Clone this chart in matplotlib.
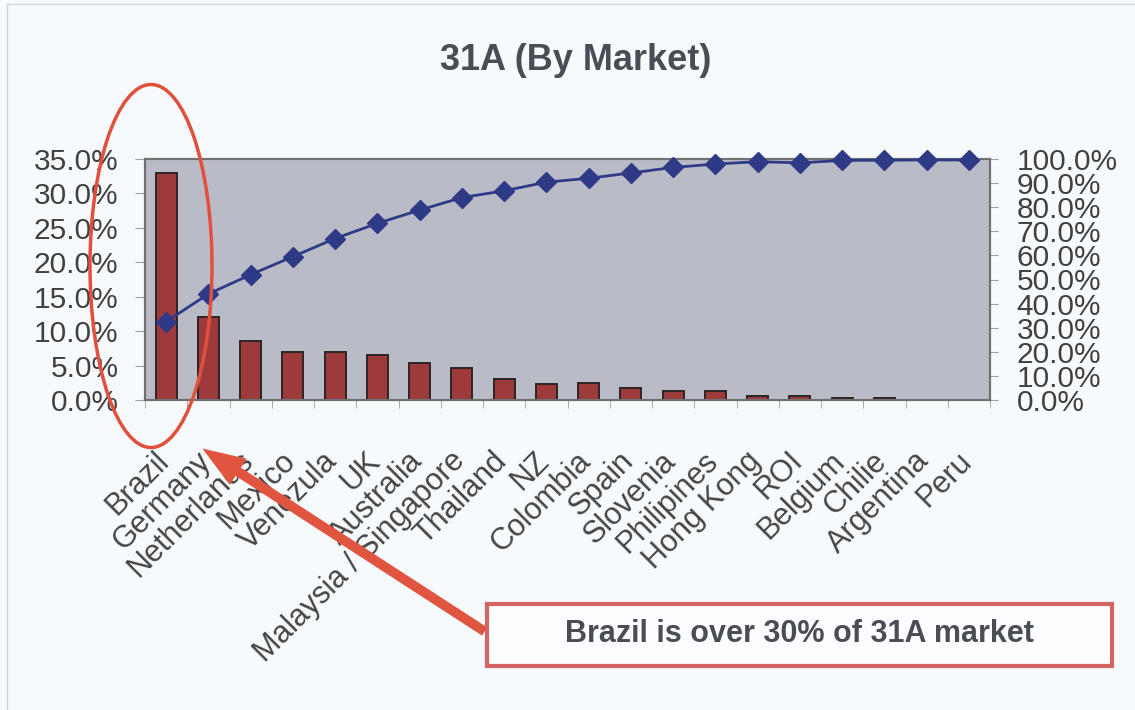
import matplotlib
matplotlib.use('Agg')
import matplotlib.pyplot as plt
import matplotlib.patches as patches
from matplotlib.lines import Line2D
import numpy as np

markets = ['Brazil', 'Germany', 'Netherlands', 'Mexico', 'Venezula', 'UK',
           'Australia', 'Malaysia / Singapore', 'Thailand', 'NZ', 'Colombia',
           'Spain', 'Slovenia', 'Philipines', 'Hong Kong', 'ROI', 'Belgium',
           'Chilie', 'Argentina', 'Peru']
# share of market (%) - bars, left axis
share = [33.0, 12.0, 8.5, 7.0, 7.0, 6.6, 5.4, 4.6, 3.1, 2.3, 2.4, 1.7, 1.3,
         1.3, 0.6, 0.6, 0.3, 0.3, 0.05, 0.05]
# cumulative share (%) - line, right axis
cumulative = [32.5, 44.0, 52.0, 59.5, 67.0, 73.3, 78.8, 84.0, 86.8, 90.4,
              92.0, 94.2, 96.5, 97.9, 98.9, 98.4, 99.4, 99.5, 99.6, 99.6]
left_ticks = [0, 5, 10, 15, 20, 25, 30, 35]
right_ticks = [0, 10, 20, 30, 40, 50, 60, 70, 80, 90, 100]

plt.rcParams['font.family'] = ['Liberation Sans', 'DejaVu Sans']
W, H = 1135, 710
fig = plt.figure(figsize=(W / 100, H / 100), dpi=100)
fig.patch.set_facecolor('#f6fafc')

ax = fig.add_axes([145 / W, 1 - 400 / H, 845 / W, 241 / H])
ax.set_facecolor('#b9bcc6')
x = np.arange(len(markets))
ax.bar(x, share, width=0.5, color='#9c3a3c', edgecolor='#2e2424', linewidth=1.4, zorder=2)
ax.set_xlim(-0.5, len(markets) - 0.5)
ax.set_ylim(0, 35)
ax.set_yticks(left_ticks)
ax.set_yticklabels([f'{v:.1f}%' for v in left_ticks], fontsize=21.5, color='#404040')
ax.tick_params(axis='y', length=7, color='#a0a0a0', pad=12)
ax.set_xticks(x)
ax.set_xticklabels([])
ax.tick_params(axis='x', length=0)
ax.set_xticks(np.arange(len(markets) + 1) - 0.5, minor=True)
ax.tick_params(axis='x', which='minor', length=6, color='#a0a0a0')
for s in ax.spines.values():
    s.set_color('#707070')
    s.set_linewidth(1.5)

for i, m in enumerate(markets):
    ax.annotate(m, xy=(i, 0), xycoords=('data', 'axes fraction'),
                xytext=(-9, -33), textcoords='offset points',
                rotation=45, ha='right', va='top', rotation_mode='anchor',
                fontsize=22, color='#454545')

ax2 = ax.twinx()
ax2.plot(x, cumulative, color='#2f3a86', linewidth=2, marker='D', markersize=10,
         clip_on=False, zorder=3)
ax2.set_ylim(0, 100)
ax2.set_yticks(right_ticks)
ax2.set_yticklabels([f'{v:.1f}%' for v in right_ticks], fontsize=21.5, color='#404040')
ax2.tick_params(axis='y', length=6, color='#a0a0a0', pad=13)
for s in ax2.spines.values():
    s.set_color('#707070')
    s.set_linewidth(1.5)

fig.text(576 / W, 1 - 60 / H, '31A (By Market)', ha='center', va='center',
         fontsize=26, fontweight='bold', color='#4a4d55')

# red ellipse round Brazil
fig.add_artist(patches.Ellipse((151 / W, 1 - 266 / H), 122 / W, 363 / H,
                               transform=fig.transFigure, fill=False,
                               edgecolor='#e0503c', linewidth=2.5))

# arrow from the box to the ellipse
fig.add_artist(patches.FancyArrowPatch((487 / W, 1 - 633 / H), (200 / W, 1 - 447 / H),
                                       transform=fig.transFigure,
                                       arrowstyle='simple,head_width=1.6,head_length=2.2,tail_width=0.5',
                                       mutation_scale=14, color='#e0553f', linewidth=0))

# callout box
fig.add_artist(patches.Rectangle((487 / W, 1 - 666 / H), 625 / W, 62 / H,
                                 transform=fig.transFigure, fill=True,
                                 facecolor='#fbfdfe', edgecolor='#d36461', linewidth=3))
fig.text(799 / W, 1 - 634 / H, 'Brazil is over 30% of 31A market', ha='center',
         va='center', fontsize=22, fontweight='bold', color='#4a4d55')

# scan border (left and top)
fig.add_artist(Line2D([7 / W, 7 / W], [0, 1 - 4 / H], transform=fig.transFigure,
                      color='#d0d4d8', linewidth=1))
fig.add_artist(Line2D([7 / W, 1], [1 - 4 / H, 1 - 4 / H], transform=fig.transFigure,
                      color='#d0d4d8', linewidth=1))

fig.savefig('out.png', dpi=100, facecolor=fig.get_facecolor())
